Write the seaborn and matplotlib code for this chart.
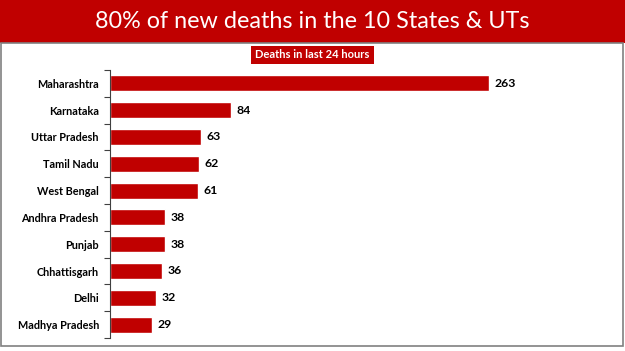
import matplotlib
matplotlib.use("Agg")
import matplotlib.pyplot as plt
import pandas as pd
import seaborn as sns
from matplotlib.patches import Rectangle

states = ["Maharashtra", "Karnataka", "Uttar Pradesh", "Tamil Nadu", "West Bengal",
          "Andhra Pradesh", "Punjab", "Chhattisgarh", "Delhi", "Madhya Pradesh"]
deaths = [263, 84, 63, 62, 61, 38, 38, 36, 32, 29]

title = "80% of new deaths in the 10 States & UTs"
subtitle = "Deaths in last 24 hours"
red = "#C00000"

sns.set_theme(style="white")
plt.rcParams["font.family"] = ["Lato", "DejaVu Sans"]

df = pd.DataFrame({"state": states, "deaths": deaths})

W, H = 625, 351
fig = plt.figure(figsize=(W / 100, H / 100), dpi=100)

# banner + frame
fig.patches.append(Rectangle((0, 1 - 43 / H), 1, 43 / H, transform=fig.transFigure,
                             facecolor=red, edgecolor="none", zorder=0))
fig.patches.append(Rectangle((1.5 / W, (H - 346) / H), 621.5 / W, (346 - 43) / H,
                             transform=fig.transFigure, facecolor="none",
                             edgecolor="#808080", linewidth=1.2, zorder=0))
fig.text(0.5, 1 - 21 / H, title, color="white", fontsize=16.8, ha="center", va="center",
         family=["Lato", "DejaVu Sans"])
fig.text(0.5, 1 - 55 / H, subtitle, color="white", fontsize=8, fontweight="bold",
         ha="center", va="center",
         bbox=dict(boxstyle="square,pad=0.35", facecolor=red, edgecolor="none"))

left, bottom = 110 / W, (H - 338) / H
ax = fig.add_axes([left, bottom, 0.9 - left, (338 - 70) / H])
sns.barplot(data=df, x="deaths", y="state", orient="h", color=red, saturation=1,
            width=0.6, ax=ax)

scale = 379 / 263  # px per death
ax.set_xlim(0, (0.9 * W - 110) / scale)
ax.set_ylim(9.5, -0.5)
ax.set_xlabel("")
ax.set_ylabel("")
ax.set_xticks([])
for s in ["top", "right", "bottom"]:
    ax.spines[s].set_visible(False)
ax.spines["left"].set_color("#404040")
ax.spines["left"].set_linewidth(0.8)
ax.tick_params(axis="y", which="major", left=False, length=0, pad=8, labelsize=7.8)
ax.set_yticks([i + 0.5 for i in range(-1, 10)], minor=True)
ax.tick_params(axis="y", which="minor", left=True, length=4, width=0.8,
               color="#404040", direction="out")
for lbl in ax.get_yticklabels():
    lbl.set_fontweight("bold")
    lbl.set_color("black")

for i, v in enumerate(deaths):
    ax.annotate(str(v), (v, i), xytext=(4, 0), textcoords="offset points",
                va="center", ha="left", fontsize=8.8, fontweight="bold", color="black")

fig.savefig("out.png", dpi=100)
